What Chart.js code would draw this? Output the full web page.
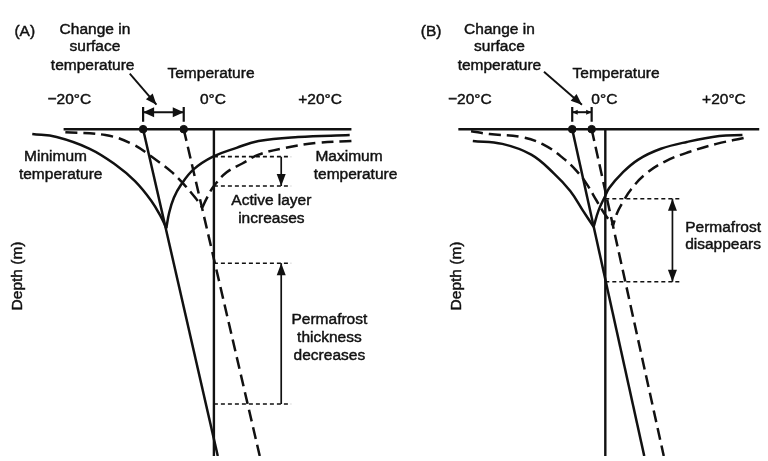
<!DOCTYPE html>
<html>
<head>
<meta charset="utf-8">
<script src="https://cdn.jsdelivr.net/npm/chart.js@4.4.1/dist/chart.umd.min.js"></script>
<style>
  html, body { margin: 0; padding: 0; background: #fff; }
  #wrap { position: relative; width: 768px; height: 461px; overflow: hidden; }
  canvas { position: absolute; top: 0; }
  #panelA { left: 0; }
  #panelB { left: 392px; }
</style>
</head>
<body>
<div id="wrap">
  <canvas id="panelA" width="422" height="461"></canvas>
  <canvas id="panelB" width="376" height="461"></canvas>
</div>
<script>
// x = temperature (0 = the 0°C line), y = depth (0 = ground surface, 100 = bottom of sketch)
// solid = profile before warming, dashed = after warming

// ---- panel A ----
const aSurface = [[-25.9, 0], [23.7, 0]];
const aMeanBefore = [[-12.2, 0], [0.67, 100]];
const aMeanAfter = [[-5.2, 0], [7.9, 100]];
const aMinBefore = [[-31.3, 1.5], [-27.1, 2.4], [-21.4, 6.0], [-17.0, 10.8], [-13.6, 15.9], [-10.8, 21.9], [-9.1, 26.9], [-8.2, 30.3]];
const aMaxBefore = [[23.4, 1.8], [14.5, 2.4], [7.7, 3.6], [3.9, 5.7], [-0.17, 8.4], [-3.5, 12.3], [-5.7, 17.1], [-6.9, 21.0], [-7.7, 25.5], [-8.2, 30.3]];
const aMinAfter = [[-25.6, 0.9], [-18.7, 1.8], [-14.1, 4.5], [-10.3, 9.0], [-7.4, 12.9], [-5.2, 16.8], [-3.2, 21.0], [-2.0, 24.0]];
const aMaxAfter = [[23.7, 3.6], [17.8, 4.2], [12.3, 5.7], [7.7, 7.8], [4.9, 10.5], [2.2, 13.2], [0, 17.4], [-1.2, 21.0], [-2.0, 24.0]];
const aActiveLayer = [8.4, 17.4];   // base of active layer, before / after
const aPermafrost = [41.0, 84.1];   // top / base markers
const aChangeArrow = [[-14.5, -17.0], [-9.9, -7.5]];

// ---- panel B ----
const bSurface = [[-25.4, 0], [26.6, 0]];
const bMeanBefore = [[-5.72, 0], [6.73, 100]];
const bMeanAfter = [[-2.36, 0], [10.1, 100]];
const bMinBefore = [[-22.9, 3.6], [-17.8, 4.5], [-12.8, 7.8], [-8.9, 13.5], [-6.06, 18.9], [-3.87, 24.9], [-2.02, 29.9]];
const bMaxBefore = [[23.7, 1.8], [19.7, 2.1], [14.1, 3.9], [9.6, 6.0], [5.7, 9.3], [2.86, 13.5], [0.67, 18.0], [-0.17, 21.0], [-1.18, 24.9], [-2.02, 29.9]];
const bMinAfter = [[-23.2, 0.6], [-20.0, 1.5], [-14.5, 2.4], [-10.6, 4.8], [-7.2, 9.0], [-4.9, 12.9], [-3.2, 16.8], [-1.5, 21.9], [-0.17, 25.8], [1.35, 29.4]];
const bMaxAfter = [[23.9, 2.7], [19.2, 4.5], [14.6, 6.9], [10.3, 9.9], [6.9, 13.8], [4.5, 18.3], [2.86, 22.8], [2.0, 25.8], [1.35, 29.4]];
const bPermafrost = [21.3, 46.7];
const bChangeArrow = [[-10.6, -17.6], [-4.04, -7.5]];

// text: [label, x, depth, align, rotated]
const aNotes = [
    ['(A)', -32.6, -29.9], ['Change in', -20.5, -30.5], ['surface', -20.5, -25.1], ['temperature', -20.9, -19.4],
    ['Temperature', -0.5, -17.0], ['\u221220\u00B0C', -24.9, -9.0], ['0\u00B0C', -0.17, -9.0], ['+20\u00B0C', 18.3, -9.0],
    ['Minimum', -27.3, 8.4], ['temperature', -26.4, 13.8], ['Maximum', 17.5, 8.4, 'left'], ['temperature', 17.2, 13.8, 'left'],
    ['Active layer', 9.9, 21.9], ['increases', 9.9, 27.3],
    ['Permafrost', 19.9, 58.4], ['thickness', 19.9, 63.8], ['decreases', 19.9, 69.2],
    ['Depth (m)', -33.8, 44.9, 'center', true]
];
const bNotes = [
    ['(B)', -30.1, -29.9], ['Change in', -18.3, -30.5], ['surface', -18.3, -25.1], ['temperature', -18.3, -19.4],
    ['Temperature', 1.85, -17.0], ['\u221220\u00B0C', -23.4, -9.0], ['0\u00B0C', -0.17, -9.0], ['+20\u00B0C', 20.5, -9.0],
    ['Permafrost', 13.8, 30.3, 'left'], ['disappears', 13.8, 35.4, 'left'],
    ['Depth (m)', -25.6, 44.9, 'center', true]
];

const INK = '#111';
const pts = arr => arr.map(([x, y]) => ({ x, y }));

function line(points, extra) {
    return Object.assign({
        data: pts(points), showLine: true, borderColor: INK, borderWidth: 2.5,
        pointRadius: 0, fill: false, tension: 0
    }, extra);
}
const solidCurve = p => line(p, { tension: 0.4 });
const dashedCurve = p => line(p, { tension: 0.4, borderDash: [12, 6] });
const dotted = (depth, x0, x1) => line([[x0, depth], [x1, depth]], { borderWidth: 1.6, borderDash: [4, 3] });

// filled heads on datasets flagged with arrow: 'end' | 'both'
const arrowPlugin = {
    id: 'arrowHeads',
    afterDatasetsDraw(chart) {
        const ctx = chart.ctx;
        chart.data.datasets.forEach((ds, i) => {
            if (!ds.arrow) return;
            const p = chart.getDatasetMeta(i).data;
            const heads = [[p[p.length - 2], p[p.length - 1]]];
            if (ds.arrow === 'both') heads.push([p[1], p[0]]);
            const len = ds.headLen || 10, half = ds.headHalf || 4;
            heads.forEach(([from, tip]) => {
                const a = Math.atan2(tip.y - from.y, tip.x - from.x);
                const bx = tip.x - len * Math.cos(a), by = tip.y - len * Math.sin(a);
                ctx.save();
                ctx.fillStyle = INK;
                ctx.beginPath();
                ctx.moveTo(tip.x, tip.y);
                ctx.lineTo(bx + half * Math.sin(a), by - half * Math.cos(a));
                ctx.lineTo(bx - half * Math.sin(a), by + half * Math.cos(a));
                ctx.closePath();
                ctx.fill();
                ctx.restore();
            });
        });
    }
};

function notesPlugin(items) {
    return {
        id: 'notes',
        afterDatasetsDraw(chart) {
            const { ctx, scales: { x, y } } = chart;
            ctx.save();
            ctx.fillStyle = '#111';
            ctx.strokeStyle = '#111';
            ctx.lineWidth = 0.45;
            ctx.font = '15.5px "Liberation Sans", Arial, sans-serif';
            ctx.textBaseline = 'middle';
            items.forEach(([text, tx, ty, align, rotated]) => {
                ctx.save();
                ctx.translate(x.getPixelForValue(tx), y.getPixelForValue(ty));
                if (rotated) ctx.rotate(-Math.PI / 2);
                ctx.textAlign = align || 'center';
                ctx.fillText(text, 0, 0);
                ctx.strokeText(text, 0, 0);
                ctx.restore();
            });
            ctx.restore();
        }
    };
}

function bracket(x0, x1, head) {
    return [
        line([[x0, -6.8], [x0, -2.3]], { borderWidth: 2.2 }),
        line([[x1, -6.8], [x1, -2.3]], { borderWidth: 2.2 }),
        line([[x0, -5.2], [x1, -5.2]], { borderWidth: 2, arrow: 'both', headLen: head, headHalf: head * 0.45 })
    ];
}

function panel(id, xMax, datasets, notes) {
    return new Chart(document.getElementById(id), {
        type: 'scatter',
        data: { datasets },
        options: {
            responsive: false, animation: false,
            layout: { padding: 0 },
            plugins: { legend: { display: false }, tooltip: { enabled: false } },
            scales: {
                x: { type: 'linear', min: -36, max: xMax, display: false },
                y: { type: 'linear', min: -38, max: 100, reverse: true, display: false }
            }
        },
        plugins: [arrowPlugin, notesPlugin(notes)]
    });
}

panel('panelA', 35, [
    line(aSurface, { borderWidth: 2.6 }),
    line([[0, 0], [0, 100]], { borderWidth: 2.4 }),
    line(aMeanBefore),
    line(aMeanAfter, { borderDash: [12, 6] }),
    solidCurve(aMinBefore), solidCurve(aMaxBefore),
    dashedCurve(aMinAfter), dashedCurve(aMaxAfter),
    dotted(aActiveLayer[0], 0, 13.3), dotted(aActiveLayer[1], 0, 13.3),
    line([[11.6, aActiveLayer[0]], [11.6, aActiveLayer[1]]], { borderWidth: 1.7, arrow: 'end', headLen: 12, headHalf: 4.5 }),
    dotted(aPermafrost[0], 0, 13.3), dotted(aPermafrost[1], 0, 13.3),
    line([[11.6, aPermafrost[1]], [11.6, aPermafrost[0]]], { borderWidth: 1.7, arrow: 'end', headLen: 12, headHalf: 4.5 }),
    line(aChangeArrow, { borderWidth: 1.9, arrow: 'end', headLen: 11, headHalf: 4.5 }),
    ...bracket(aMeanBefore[0][0], aMeanAfter[0][0], 11),
    { data: pts([aMeanBefore[0], aMeanAfter[0]]), pointRadius: 3.8, backgroundColor: INK, borderColor: INK }
], aNotes);

panel('panelB', 27.25, [
    line(bSurface, { borderWidth: 2.6 }),
    line([[0, 0], [0, 100]], { borderWidth: 2.4 }),
    line(bMeanBefore),
    line(bMeanAfter, { borderDash: [12, 6] }),
    solidCurve(bMinBefore), solidCurve(bMaxBefore),
    dashedCurve(bMinAfter), dashedCurve(bMaxAfter),
    dotted(bPermafrost[0], 0, 13.3), dotted(bPermafrost[1], 0, 13.3),
    line([[11.6, bPermafrost[0]], [11.6, bPermafrost[1]]], { borderWidth: 1.7, arrow: 'both', headLen: 12, headHalf: 4.5 }),
    line(bChangeArrow, { borderWidth: 1.9, arrow: 'end', headLen: 11, headHalf: 4.5 }),
    ...bracket(bMeanBefore[0][0], bMeanAfter[0][0], 5.5),
    { data: pts([bMeanBefore[0], bMeanAfter[0]]), pointRadius: 3.8, backgroundColor: INK, borderColor: INK }
], bNotes);
</script>
</body>
</html>
